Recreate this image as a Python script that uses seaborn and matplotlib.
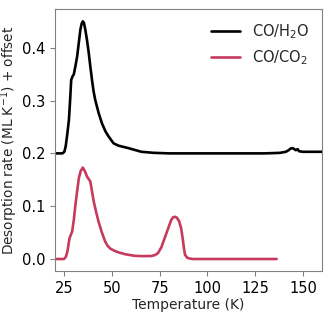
import pandas as pd
import seaborn as sns
import matplotlib.pyplot as plt

# CO/H2O trace (already offset by +0.2)
t_h2o = [20, 24, 25, 25.7, 26.5, 27.4, 28.1, 28.6, 29.2, 30, 30.8, 31.7, 32.6,
         33.4, 34.1, 34.7, 35.3, 36, 36.9, 37.8, 38.6, 39.5, 40.3, 41.2, 43,
         44.7, 46.5, 48.2, 49.6, 50.8, 53.4, 58.5, 65.4, 72, 80, 100, 130, 138,
         141, 142.5, 143.5, 144.5, 145.5, 146.3, 147.2, 148, 150, 160]
r_h2o = [0.200, 0.200, 0.203, 0.213, 0.235, 0.263, 0.305, 0.339, 0.345, 0.350,
         0.365, 0.383, 0.410, 0.434, 0.446, 0.450, 0.447, 0.434, 0.414, 0.390,
         0.365, 0.339, 0.318, 0.301, 0.276, 0.257, 0.242, 0.232, 0.225, 0.219,
         0.2146, 0.210, 0.203, 0.201, 0.200, 0.200, 0.200, 0.201, 0.203, 0.206,
         0.209, 0.210, 0.208, 0.206, 0.208, 0.204, 0.203, 0.203]

# CO/CO2 trace
t_co2 = [20, 24.8, 25.8, 26.6, 27.7, 29.1, 30, 30.8, 31.7, 32.6, 33.6, 34.7,
         35.8, 36.9, 38.6, 39.5, 40.4, 41.6, 42.9, 44.6, 46.4, 47.7, 49, 51,
         53.3, 57, 61.9, 66, 70.5, 72.5, 74, 75.8, 77.5, 79.3, 81, 82, 83, 84,
         85.2, 86.2, 87, 87.6, 88.2, 89.5, 92, 110, 136.2]
r_co2 = [0.0, 0.0, 0.004, 0.014, 0.039, 0.052, 0.075, 0.102, 0.128, 0.153,
         0.167, 0.173, 0.166, 0.156, 0.147, 0.128, 0.109, 0.090, 0.071, 0.051,
         0.033, 0.025, 0.020, 0.016, 0.0127, 0.009, 0.006, 0.0055, 0.0057,
         0.0075, 0.011, 0.022, 0.039, 0.057, 0.074, 0.079, 0.080, 0.078, 0.071,
         0.058, 0.039, 0.022, 0.008, 0.002, 0.0, 0.0, 0.0]

labels = ["CO/H$_2$O", "CO/CO$_2$"]
colors = ["black", "#c63a5e"]

df = pd.concat([
    pd.DataFrame({"T": t_h2o, "rate": r_h2o, "sample": labels[0]}),
    pd.DataFrame({"T": t_co2, "rate": r_co2, "sample": labels[1]}),
])

sns.set_style("ticks", {"axes.edgecolor": "0.5", "xtick.color": "0.5", "ytick.color": "0.5"})
plt.rcParams["xtick.labelcolor"] = "black"
plt.rcParams["ytick.labelcolor"] = "black"

fig, ax = plt.subplots(figsize=(3.32, 3.15), dpi=100)
sns.lineplot(data=df, x="T", y="rate", hue="sample", palette=colors,
             linewidth=1.9, ax=ax, sort=False)
ax.set_xlim(20, 160)
ax.set_xticks([25, 50, 75, 100, 125, 150])
ax.set_yticks([0.0, 0.1, 0.2, 0.3, 0.4])
ax.set_xlabel("Temperature (K)", fontsize=10, labelpad=2)
ax.set_ylabel("Desorption rate (ML K$^{-1}$) + offset", fontsize=9.8, labelpad=1)
ax.tick_params(labelsize=10.5, length=3.5)
ax.legend(title=None, frameon=False, loc="upper right", fontsize=10.5)

plt.subplots_adjust(left=0.165, right=0.97, top=0.97, bottom=0.14)
plt.savefig("out.png")
plt.close()
